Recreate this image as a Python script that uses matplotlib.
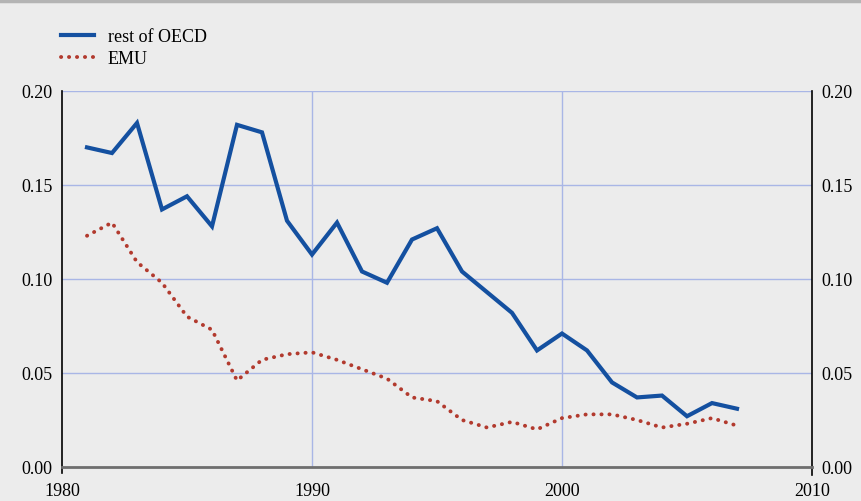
import numpy as np
import matplotlib
matplotlib.use('Agg')
import matplotlib.pyplot as plt
from matplotlib.lines import Line2D

years = list(range(1981, 2008))
rest_oecd = [0.170, 0.167, 0.183, 0.137, 0.144, 0.128, 0.182, 0.178, 0.131, 0.113,
             0.130, 0.104, 0.098, 0.121, 0.127, 0.104, 0.093, 0.082, 0.062, 0.071,
             0.062, 0.045, 0.037, 0.038, 0.027, 0.034, 0.031]
emu = [0.123, 0.130, 0.109, 0.098, 0.080, 0.073, 0.046, 0.057, 0.060, 0.061,
       0.057, 0.052, 0.047, 0.037, 0.035, 0.025, 0.021, 0.024, 0.020, 0.026,
       0.028, 0.028, 0.025, 0.021, 0.023, 0.026, 0.022]
xticks = [1980, 1990, 2000, 2010]
yticks = [0.00, 0.05, 0.10, 0.15, 0.20]

bg = '#ececec'
blue = '#1450a0'
red = '#b23a2e'
gridc = '#a9b6e6'
dots = (0, (0.05, 2.0))

plt.rcParams['font.family'] = ['Liberation Serif', 'DejaVu Serif']

fig = plt.figure(figsize=(8.61, 5.02), dpi=100, facecolor=bg)
ax = fig.add_axes([62/861, 1-468/502, 750/861, 376/502], facecolor=bg)

ax.plot(years, rest_oecd, color=blue, lw=3, solid_joinstyle='miter', zorder=3)
ax.plot(years, emu, color=red, lw=2.8, linestyle=dots,
        dash_capstyle='round', zorder=3)

ax.set_xlim(1980, 2010)
ax.set_ylim(0, 0.20)
ax.set_xticks(xticks)
ax.set_yticks(yticks)
ax.set_yticklabels(['%.2f' % v for v in yticks])
ax.tick_params(axis='y', which='both', left=True, right=True, labelleft=True,
               labelright=True, length=0, labelsize=13, pad=7, colors='black')
ax.tick_params(axis='x', length=0, labelsize=13, pad=11)

for v in yticks[1:]:
    ax.axhline(v, color=gridc, lw=1, zorder=1)
for v in [1990, 2000]:
    ax.axvline(v, color=gridc, lw=1, zorder=1)

ax.spines['top'].set_visible(False)
ax.spines['left'].set_color('black')
ax.spines['left'].set_linewidth(1.2)
ax.spines['right'].set_color('black')
ax.spines['right'].set_linewidth(1.2)
ax.spines['right'].set_bounds(-0.004, 0.20)
ax.spines['left'].set_bounds(-0.003, 0.20)
ax.spines['bottom'].set_color('#6e6e6e')
ax.spines['bottom'].set_linewidth(2)
ax.spines['bottom'].set_zorder(4)

# grey rule along the top of the figure
fig.add_artist(Line2D([0, 1], [1 - 1.5/502, 1 - 1.5/502], color='#b4b4b4', lw=2.5,
                      transform=fig.transFigure))

handles = [Line2D([], [], color=blue, lw=3),
           Line2D([], [], color=red, lw=2.8, linestyle=dots,
                  dash_capstyle='round')]
fig.legend(handles, ['rest of OECD', 'EMU'], loc='upper left',
           bbox_to_anchor=(61/861, 1-29/502), frameon=False, fontsize=13,
           handlelength=1.85, handletextpad=0.75, labelspacing=0.3,
           borderaxespad=0, borderpad=0)

fig.savefig('out.png', dpi=100, facecolor=bg)
